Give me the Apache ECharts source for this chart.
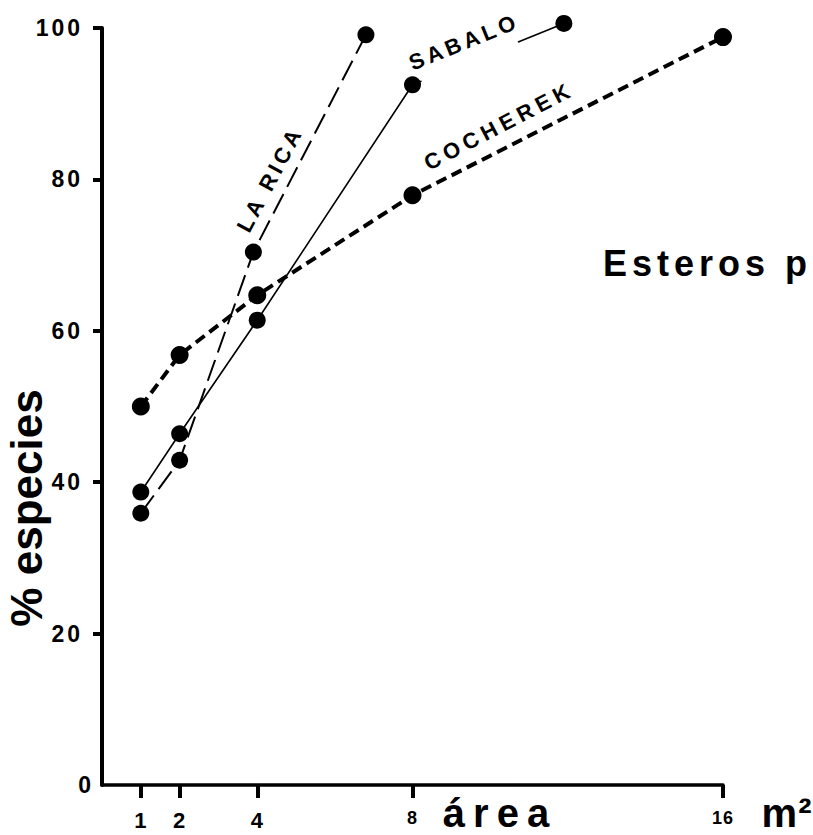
<!DOCTYPE html>
<html>
<head>
<meta charset="utf-8">
<style>
html,body{margin:0;padding:0;background:#fff;}
#c{width:813px;height:835px;}
#c text[style*="zqa"]{letter-spacing:1px;}
#c text[style*="zqb"]{letter-spacing:3px;}
#c text[style*="zqc"]{letter-spacing:5px;}
#c text[style*="zqd"]{letter-spacing:4px;}
#c text[style*="zqe"]{letter-spacing:5px;}
#c text[style*="zqf"]{letter-spacing:8px;}
</style>
<script src="https://cdn.jsdelivr.net/npm/echarts@6/dist/echarts.min.js"></script>
</head>
<body>
<div id="c"></div>
<script>
// ---- data ----
const areaTicks = [1, 2, 4, 8, 16];
const pctTicks = [0, 20, 40, 60, 80, 100];
const laRicaArea = [1, 2, 3.9, 6.8];
const laRicaPct = [35.9, 42.9, 70.4, 99.1];
const sabaloArea = [1, 2, 4, 8, 11.9];
const sabaloPct = [38.7, 46.4, 61.4, 92.5, 100.6];
const cocherekArea = [1, 2, 4, 8, 16];
const cocherekPct = [50, 56.8, 64.7, 77.9, 98.8];
const seriesNames = ['LA RICA', 'SABALO', 'COCHEREK'];

const pairs = (xs, ys) => xs.map((x, i) => [x, ys[i]]);
const F = "'Liberation Sans', Arial, Helvetica";
const fam = tag => F + ', ' + tag;
const deg = d => d * Math.PI / 180;

const chart = echarts.init(document.getElementById('c'), null, {renderer: 'svg'});

const yTok = {fontSize: 23, fontWeight: 'bold', fontFamily: fam('zqb'), color: '#000'};

const option = {
  animation: false,
  backgroundColor: '#fff',
  grid: {left: 102, right: 90, top: 28, bottom: 50, containLabel: false},
  xAxis: {
    type: 'value', min: 0, max: 16,
    axisLine: {show: true, lineStyle: {color: '#000', width: 3.5}},
    axisTick: {show: true, customValues: areaTicks, length: 13, lineStyle: {color: '#000', width: 4}},
    axisLabel: {
      show: true, customValues: areaTicks, margin: 24, color: '#000',
      formatter: v => (v >= 8 ? '{s|' + v + '}' : '{b|' + v + '}'),
      rich: {
        b: {fontSize: 22, fontWeight: 'bold', fontFamily: fam('zqa'), color: '#000'},
        s: {fontSize: 18, fontWeight: 'bold', fontFamily: fam('zqa'), color: '#000'}
      }
    },
    splitLine: {show: false}
  },
  yAxis: {
    type: 'value', min: 0, max: 100, interval: 20,
    axisLine: {show: true, lineStyle: {color: '#000', width: 4}},
    axisTick: {show: true, customValues: pctTicks.slice(1), length: 9, lineStyle: {color: '#000', width: 4}},
    axisLabel: {
      show: true, margin: 8, color: '#000',
      formatter: v => (v === 0 ? '{z|' + v + '}' : '{n|' + v + '}'),
      rich: {
        n: Object.assign({padding: [0, 11, 0, 0]}, yTok),
        z: Object.assign({}, yTok)
      }
    },
    splitLine: {show: false}
  },
  series: [
    {
      name: seriesNames[0], type: 'line', data: pairs(laRicaArea, laRicaPct), clip: false, z: 2,
      symbol: 'circle', symbolSize: 17, itemStyle: {color: '#000'},
      lineStyle: {color: '#000', width: 2, type: [22, 8]}
    },
    {
      name: seriesNames[1], type: 'line', data: pairs(sabaloArea, sabaloPct), clip: false, z: 2,
      symbol: 'circle', symbolSize: 17, itemStyle: {color: '#000'},
      lineStyle: {color: '#000', width: 1.6, type: 'solid'}
    },
    {
      name: seriesNames[2], type: 'line', data: pairs(cocherekArea, cocherekPct), clip: false, z: 2,
      symbol: 'circle', symbolSize: 18, itemStyle: {color: '#000'},
      lineStyle: {color: '#000', width: 4, type: [11, 6]}
    }
  ],
  graphic: {
    elements: [
      // white mask where the SABALO line is interrupted by its label
      {type: 'rect', z: 50, zlevel: 0, x: 464, y: 42, rotation: deg(22),
       shape: {x: -54, y: -13, width: 104, height: 38},
       style: {fill: '#fff', stroke: null}},
      {type: 'text', z: 100, x: 270, y: 179, rotation: deg(62),
       style: {text: seriesNames[0], fontSize: 22, fontWeight: 'bold', fontFamily: fam('zqd'), fill: '#000', textAlign: 'center', textVerticalAlign: 'middle'}},
      {type: 'text', z: 100, x: 464, y: 42, rotation: deg(22),
       style: {text: seriesNames[1], fontSize: 22, fontWeight: 'bold', fontFamily: fam('zqd'), fill: '#000', textAlign: 'center', textVerticalAlign: 'middle'}},
      {type: 'text', z: 100, x: 499, y: 126, rotation: deg(27.5),
       style: {text: seriesNames[2], fontSize: 22, fontWeight: 'bold', fontFamily: fam('zqe'), fill: '#000', textAlign: 'center', textVerticalAlign: 'middle'}},
      {type: 'text', z: 100, x: 26, y: 508, rotation: Math.PI / 2,
       style: {text: '% especies', fontSize: 44, fontWeight: 'bold', fontFamily: F, fill: '#000', textAlign: 'center', textVerticalAlign: 'middle'}},
      {type: 'text', z: 100, x: 500, y: 813,
       style: {text: 'área', fontSize: 40, fontWeight: 'bold', fontFamily: fam('zqf'), fill: '#000', textAlign: 'center', textVerticalAlign: 'middle'}},
      {type: 'text', z: 100, x: 787, y: 813,
       style: {text: 'm²', fontSize: 40, fontWeight: 'bold', fontFamily: fam('zqa'), fill: '#000', textAlign: 'center', textVerticalAlign: 'middle'}},
      {type: 'text', z: 100, x: 603, y: 263,
       style: {text: 'Esteros p', fontSize: 36, fontWeight: 'bold', fontFamily: fam('zqc'), fill: '#000', textAlign: 'left', textVerticalAlign: 'middle'}}
    ]
  }
};
chart.setOption(option);
</script>
</body>
</html>
